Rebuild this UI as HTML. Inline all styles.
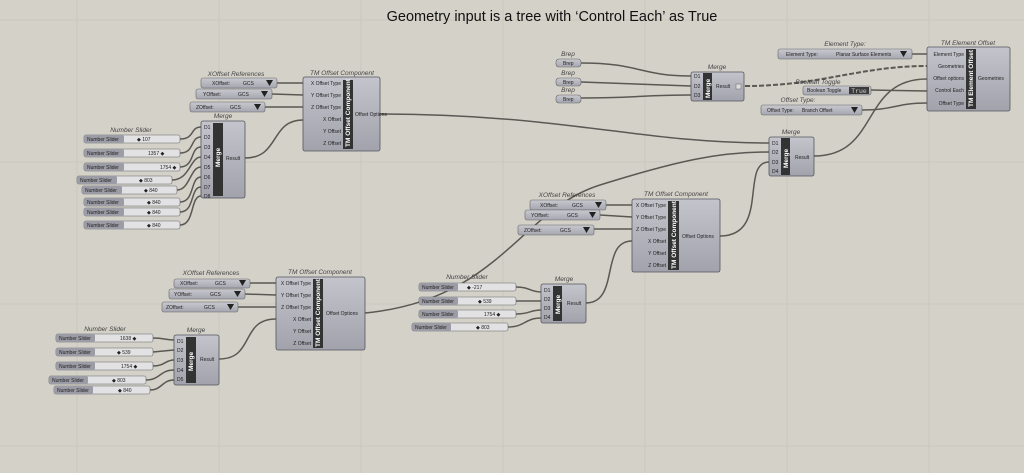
<!DOCTYPE html>
<html><head><meta charset="utf-8"><style>
html,body{margin:0;padding:0;background:#d4d1c9;}
svg{display:block}
.t{font-family:"Liberation Sans",sans-serif;font-size:5px;fill:#222}
.l{font-family:"Liberation Sans",sans-serif;font-size:6.5px;font-style:italic;fill:#444}
.v{font-family:"Liberation Sans",sans-serif;font-size:6.5px;font-weight:bold;fill:#fff}
.c{fill:url(#g);stroke:#55555c;stroke-width:.8}
.st{fill:#333}
.w{stroke:#5a5852;stroke-width:1.5;fill:none}
.sl{fill:#e2e2e4;stroke:#666;stroke-width:.6}
.sk{fill:#9c9ca6}
.dd{fill:url(#g2);stroke:#666;stroke-width:.6}
</style></head><body>
<svg width="1024" height="473" viewBox="0 0 1024 473" xmlns="http://www.w3.org/2000/svg">
<defs>
<linearGradient id="g" x1="0" y1="0" x2="0" y2="1"><stop offset="0" stop-color="#c4c4cc"/><stop offset="1" stop-color="#a2a2ac"/></linearGradient>
<linearGradient id="g2" x1="0" y1="0" x2="0" y2="1"><stop offset="0" stop-color="#c8c8cf"/><stop offset="1" stop-color="#a6a6b0"/></linearGradient>
</defs>
<rect width="1024" height="473" fill="#d4d1c9"/>
<g stroke="#cbc8bf" stroke-width="1">
<line x1="0" y1="20" x2="1024" y2="20"/><line x1="0" y1="162" x2="1024" y2="162"/><line x1="0" y1="304" x2="1024" y2="304"/><line x1="0" y1="446" x2="1024" y2="446"/>
<line x1="77" y1="0" x2="77" y2="473"/><line x1="219" y1="0" x2="219" y2="473"/><line x1="361" y1="0" x2="361" y2="473"/><line x1="503" y1="0" x2="503" y2="473"/><line x1="645" y1="0" x2="645" y2="473"/><line x1="787" y1="0" x2="787" y2="473"/><line x1="929" y1="0" x2="929" y2="473"/>
</g>
<text x="552" y="21" text-anchor="middle" font-family="Liberation Sans,sans-serif" font-size="14.5" fill="#111">Geometry input is a tree with ‘Control Each’ as True</text>

<!-- wires -->
<g class="w">
<path d="M277,83 L303,83"/><path d="M272,94 L303,95"/><path d="M265,107 L303,107"/>
<path d="M245,158 C280,158 270,120 303,120"/>
<path d="M180,139 C195,139 190,127 201,127"/><path d="M180,153 C195,153 190,137 201,137"/>
<path d="M180,167 C195,167 190,147 201,147"/><path d="M172,180 C190,180 190,157 201,157"/>
<path d="M177,190 C190,190 190,167 201,167"/><path d="M180,202 C195,202 190,177 201,177"/>
<path d="M180,212 C195,212 190,187 201,187"/><path d="M180,225 C195,225 190,196 201,196"/>
<path d="M380,114 C560,114 640,143 769,143"/>
<path d="M814,156 C880,156 860,79 927,79"/>
<path d="M581,63 C640,63 640,76 691,76"/><path d="M581,82 L691,86"/><path d="M581,98 C640,98 640,95 691,95"/>
<path d="M912,54 L927,54"/><path d="M871,90 L927,91"/><path d="M862,110 C895,110 895,103 927,103"/>
<path d="M745,86 C820,86 860,66 927,66" stroke-dasharray="5,2" stroke-width="2"/>
<!-- group C -->
<path d="M606,205 L632,205"/><path d="M600,215 L632,217"/><path d="M594,229 L632,229"/>
<path d="M586,303 C620,303 600,241 632,241"/>
<path d="M720,236 C770,236 740,162 769,162"/>
<path d="M365,313 C500,300 520,210 600,185 C680,160 720,152 769,152"/>
<path d="M516,287 C530,287 530,292 541,292"/><path d="M516,301 L541,301"/>
<path d="M516,314 C530,314 530,310 541,310"/><path d="M508,327 C525,327 525,318 541,318"/>
<!-- group D -->
<path d="M250,283 L276,283"/><path d="M245,294 L276,295"/><path d="M238,307 L276,307"/>
<path d="M219,359 C255,359 240,319 276,319"/>
<path d="M153,338 C165,338 165,340 174,340"/><path d="M153,352 L174,350"/>
<path d="M153,366 C165,366 165,360 174,360"/><path d="M146,380 C160,380 160,370 174,370"/>
<path d="M150,390 C162,390 162,380 174,380"/>
</g>

<!-- ===== Group A ===== -->
<text class="l" x="236" y="76" text-anchor="middle">XOffset References</text>
<rect class="dd" x="201" y="78" width="76" height="10" rx="2"/><text class="t" x="212" y="85">XOffset:</text><text class="t" x="243" y="85">GCS</text><path d="M266,80h7l-3.5,6z" fill="#222"/>
<rect class="dd" x="196" y="89" width="76" height="10" rx="2"/><text class="t" x="203" y="96">YOffset:</text><text class="t" x="238" y="96">GCS</text><path d="M261,91h7l-3.5,6z" fill="#222"/>
<rect class="dd" x="190" y="102" width="75" height="10" rx="2"/><text class="t" x="196" y="109">ZOffset:</text><text class="t" x="230" y="109">GCS</text><path d="M254,104h7l-3.5,6z" fill="#222"/>

<text class="l" x="342" y="75" text-anchor="middle">TM Offset Component</text>
<rect class="c" x="303" y="77" width="77" height="74" rx="2"/><rect class="st" x="343" y="80" width="10" height="69"/>
<text class="v" transform="translate(350,147) rotate(-90)" font-size="6">TM Offset Component</text>
<g class="t" text-anchor="end"><text x="341" y="85">X Offset Type</text><text x="341" y="97">Y Offset Type</text><text x="341" y="109">Z Offset Type</text><text x="341" y="121">X Offset</text><text x="341" y="133">Y Offset</text><text x="341" y="145">Z Offset</text></g>
<text class="t" x="355" y="116">Offset Options</text>

<text class="l" x="223" y="118" text-anchor="middle">Merge</text>
<rect class="c" x="201" y="121" width="44" height="77" rx="2"/><rect class="st" x="213" y="123" width="10" height="73"/>
<text class="v" transform="translate(220,167) rotate(-90)">Merge</text>
<g class="t"><text x="204" y="129">D1</text><text x="204" y="139">D2</text><text x="204" y="149">D3</text><text x="204" y="159">D4</text><text x="204" y="169">D5</text><text x="204" y="179">D6</text><text x="204" y="189">D7</text><text x="204" y="198">D8</text></g>
<text class="t" x="226" y="160">Result</text>

<text class="l" x="131" y="132" text-anchor="middle">Number Slider</text>
<g>
<rect class="sl" x="84" y="135" width="96" height="8" rx="2"/><rect class="sk" x="84" y="135" width="40" height="8" rx="2"/><text class="t" x="87" y="141">Number Slider</text><text class="t" x="137" y="141">◆ 107</text>
<rect class="sl" x="84" y="149" width="96" height="8" rx="2"/><rect class="sk" x="84" y="149" width="40" height="8" rx="2"/><text class="t" x="87" y="155">Number Slider</text><text class="t" x="148" y="155">1357 ◆</text>
<rect class="sl" x="84" y="163" width="96" height="8" rx="2"/><rect class="sk" x="84" y="163" width="40" height="8" rx="2"/><text class="t" x="87" y="169">Number Slider</text><text class="t" x="160" y="169">1754 ◆</text>
<rect class="sl" x="77" y="176" width="95" height="8" rx="2"/><rect class="sk" x="77" y="176" width="40" height="8" rx="2"/><text class="t" x="80" y="182">Number Slider</text><text class="t" x="139" y="182">◆ 803</text>
<rect class="sl" x="82" y="186" width="95" height="8" rx="2"/><rect class="sk" x="82" y="186" width="40" height="8" rx="2"/><text class="t" x="85" y="192">Number Slider</text><text class="t" x="144" y="192">◆ 840</text>
<rect class="sl" x="84" y="198" width="96" height="8" rx="2"/><rect class="sk" x="84" y="198" width="40" height="8" rx="2"/><text class="t" x="87" y="204">Number Slider</text><text class="t" x="147" y="204">◆ 840</text>
<rect class="sl" x="84" y="208" width="96" height="8" rx="2"/><rect class="sk" x="84" y="208" width="40" height="8" rx="2"/><text class="t" x="87" y="214">Number Slider</text><text class="t" x="147" y="214">◆ 840</text>
<rect class="sl" x="84" y="221" width="96" height="8" rx="2"/><rect class="sk" x="84" y="221" width="40" height="8" rx="2"/><text class="t" x="87" y="227">Number Slider</text><text class="t" x="147" y="227">◆ 840</text>
</g>

<!-- ===== Group B ===== -->
<text class="l" x="568" y="56" text-anchor="middle">Brep</text>
<rect class="dd" x="556" y="59" width="25" height="8" rx="3"/><text class="t" x="563" y="65">Brep</text>
<text class="l" x="568" y="75" text-anchor="middle">Brep</text>
<rect class="dd" x="556" y="78" width="25" height="8" rx="3"/><text class="t" x="563" y="84">Brep</text>
<text class="l" x="568" y="92" text-anchor="middle">Brep</text>
<rect class="dd" x="556" y="95" width="25" height="8" rx="3"/><text class="t" x="563" y="101">Brep</text>

<text class="l" x="717" y="69" text-anchor="middle">Merge</text>
<rect class="c" x="691" y="72" width="53" height="29" rx="2"/><rect class="st" x="703" y="73" width="9" height="27"/>
<text class="v" transform="translate(710,98) rotate(-90)" font-size="5.5">Merge</text>
<g class="t"><text x="694" y="78">D1</text><text x="694" y="88">D2</text><text x="694" y="97">D3</text></g>
<text class="t" x="716" y="88">Result</text><rect x="736" y="84" width="5" height="5" fill="#ddd" stroke="#666" stroke-width=".5"/>

<text class="l" x="845" y="46" text-anchor="middle">Element Type:</text>
<rect class="dd" x="778" y="49" width="134" height="10" rx="2"/><text class="t" x="786" y="56">Element Type:</text><text class="t" x="836" y="56">Planar Surface Elements</text><path d="M900,51h7l-3.5,6z" fill="#222"/>

<text class="l" x="968" y="45" text-anchor="middle">TM Element Offset</text>
<rect class="c" x="927" y="47" width="83" height="64" rx="2"/><rect class="st" x="966" y="49" width="10" height="60"/>
<text class="v" transform="translate(973,107) rotate(-90)" font-size="6">TM Element Offset</text>
<g class="t" text-anchor="end"><text x="964" y="56">Element Type</text><text x="964" y="68">Geometries</text><text x="964" y="80">Offset options</text><text x="964" y="92">Control Each</text><text x="964" y="105">Offset Type</text></g>
<text class="t" x="978" y="80">Geometries</text>

<text class="l" x="818" y="84" text-anchor="middle">Boolean Toggle</text>
<rect class="dd" x="803" y="86" width="68" height="9" rx="2"/><text class="t" x="807" y="92">Boolean Toggle</text>
<rect x="849" y="87" width="20" height="7" fill="#3a3a3a"/><text x="859" y="93" text-anchor="middle" font-family="Liberation Mono,monospace" font-size="6.5" fill="#ccc">True</text>

<text class="l" x="798" y="102" text-anchor="middle">Offset Type:</text>
<rect class="dd" x="761" y="105" width="101" height="10" rx="2"/><text class="t" x="767" y="112">Offset Type:</text><text class="t" x="802" y="112">Branch Offset</text><path d="M851,107h7l-3.5,6z" fill="#222"/>

<text class="l" x="791" y="134" text-anchor="middle">Merge</text>
<rect class="c" x="769" y="137" width="45" height="39" rx="2"/><rect class="st" x="781" y="138" width="9" height="37"/>
<text class="v" transform="translate(788,168) rotate(-90)" font-size="5.5">Merge</text>
<g class="t"><text x="772" y="145">D1</text><text x="772" y="154">D2</text><text x="772" y="164">D3</text><text x="772" y="173">D4</text></g>
<text class="t" x="795" y="159">Result</text>

<!-- ===== Group C ===== -->
<text class="l" x="567" y="197" text-anchor="middle">XOffset References</text>
<rect class="dd" x="530" y="200" width="76" height="10" rx="2"/><text class="t" x="540" y="207">XOffset:</text><text class="t" x="572" y="207">GCS</text><path d="M595,202h7l-3.5,6z" fill="#222"/>
<rect class="dd" x="525" y="210" width="75" height="10" rx="2"/><text class="t" x="531" y="217">YOffset:</text><text class="t" x="567" y="217">GCS</text><path d="M589,212h7l-3.5,6z" fill="#222"/>
<rect class="dd" x="518" y="225" width="76" height="10" rx="2"/><text class="t" x="524" y="232">ZOffset:</text><text class="t" x="560" y="232">GCS</text><path d="M583,227h7l-3.5,6z" fill="#222"/>

<text class="l" x="676" y="196" text-anchor="middle">TM Offset Component</text>
<rect class="c" x="632" y="199" width="88" height="73" rx="2"/><rect class="st" x="668" y="201" width="11" height="69"/>
<text class="v" transform="translate(676,269) rotate(-90)" font-size="6">TM Offset Component</text>
<g class="t" text-anchor="end"><text x="666" y="207">X Offset Type</text><text x="666" y="219">Y Offset Type</text><text x="666" y="231">Z Offset Type</text><text x="666" y="243">X Offset</text><text x="666" y="255">Y Offset</text><text x="666" y="267">Z Offset</text></g>
<text class="t" x="682" y="238">Offset Options</text>

<text class="l" x="467" y="279" text-anchor="middle">Number Slider</text>
<rect class="sl" x="419" y="283" width="97" height="8" rx="2"/><rect class="sk" x="419" y="283" width="39" height="8" rx="2"/><text class="t" x="422" y="289">Number Slider</text><text class="t" x="467" y="289">◆ -217</text>
<rect class="sl" x="419" y="297" width="97" height="8" rx="2"/><rect class="sk" x="419" y="297" width="39" height="8" rx="2"/><text class="t" x="422" y="303">Number Slider</text><text class="t" x="478" y="303">◆ 539</text>
<rect class="sl" x="419" y="310" width="97" height="8" rx="2"/><rect class="sk" x="419" y="310" width="39" height="8" rx="2"/><text class="t" x="422" y="316">Number Slider</text><text class="t" x="484" y="316">1754 ◆</text>
<rect class="sl" x="412" y="323" width="96" height="8" rx="2"/><rect class="sk" x="412" y="323" width="39" height="8" rx="2"/><text class="t" x="415" y="329">Number Slider</text><text class="t" x="476" y="329">◆ 803</text>

<text class="l" x="564" y="281" text-anchor="middle">Merge</text>
<rect class="c" x="541" y="284" width="45" height="39" rx="2"/><rect class="st" x="553" y="286" width="9" height="35"/>
<text class="v" transform="translate(560,314) rotate(-90)" font-size="5.5">Merge</text>
<g class="t"><text x="544" y="292">D1</text><text x="544" y="301">D2</text><text x="544" y="310">D3</text><text x="544" y="319">D4</text></g>
<text class="t" x="567" y="305">Result</text>

<!-- ===== Group D ===== -->
<text class="l" x="211" y="275" text-anchor="middle">XOffset References</text>
<rect class="dd" x="174" y="279" width="76" height="9" rx="2"/><text class="t" x="180" y="285">XOffset:</text><text class="t" x="215" y="285">GCS</text><path d="M239,280h7l-3.5,6z" fill="#222"/>
<rect class="dd" x="169" y="289" width="76" height="10" rx="2"/><text class="t" x="174" y="296">YOffset:</text><text class="t" x="210" y="296">GCS</text><path d="M234,291h7l-3.5,6z" fill="#222"/>
<rect class="dd" x="162" y="302" width="76" height="10" rx="2"/><text class="t" x="166" y="309">ZOffset:</text><text class="t" x="204" y="309">GCS</text><path d="M227,304h7l-3.5,6z" fill="#222"/>

<text class="l" x="320" y="274" text-anchor="middle">TM Offset Component</text>
<rect class="c" x="276" y="277" width="89" height="73" rx="2"/><rect class="st" x="313" y="279" width="10" height="69"/>
<text class="v" transform="translate(320,347) rotate(-90)" font-size="6">TM Offset Component</text>
<g class="t" text-anchor="end"><text x="311" y="285">X Offset Type</text><text x="311" y="297">Y Offset Type</text><text x="311" y="309">Z Offset Type</text><text x="311" y="321">X Offset</text><text x="311" y="333">Y Offset</text><text x="311" y="345">Z Offset</text></g>
<text class="t" x="326" y="315">Offset Options</text>

<text class="l" x="196" y="332" text-anchor="middle">Merge</text>
<rect class="c" x="174" y="335" width="45" height="50" rx="2"/><rect class="st" x="186" y="337" width="10" height="46"/>
<text class="v" transform="translate(193,371) rotate(-90)" font-size="5.5">Merge</text>
<g class="t"><text x="177" y="343">D1</text><text x="177" y="352">D2</text><text x="177" y="362">D3</text><text x="177" y="372">D4</text><text x="177" y="381">D5</text></g>
<text class="t" x="200" y="361">Result</text>

<text class="l" x="105" y="331" text-anchor="middle">Number Slider</text>
<rect class="sl" x="56" y="334" width="97" height="8" rx="2"/><rect class="sk" x="56" y="334" width="39" height="8" rx="2"/><text class="t" x="59" y="340">Number Slider</text><text class="t" x="120" y="340">1638 ◆</text>
<rect class="sl" x="56" y="348" width="97" height="8" rx="2"/><rect class="sk" x="56" y="348" width="39" height="8" rx="2"/><text class="t" x="59" y="354">Number Slider</text><text class="t" x="117" y="354">◆ 539</text>
<rect class="sl" x="56" y="362" width="97" height="8" rx="2"/><rect class="sk" x="56" y="362" width="39" height="8" rx="2"/><text class="t" x="59" y="368">Number Slider</text><text class="t" x="121" y="368">1754 ◆</text>
<rect class="sl" x="49" y="376" width="97" height="8" rx="2"/><rect class="sk" x="49" y="376" width="39" height="8" rx="2"/><text class="t" x="52" y="382">Number Slider</text><text class="t" x="112" y="382">◆ 803</text>
<rect class="sl" x="54" y="386" width="96" height="8" rx="2"/><rect class="sk" x="54" y="386" width="39" height="8" rx="2"/><text class="t" x="57" y="392">Number Slider</text><text class="t" x="118" y="392">◆ 840</text>
</svg>
</body></html>
